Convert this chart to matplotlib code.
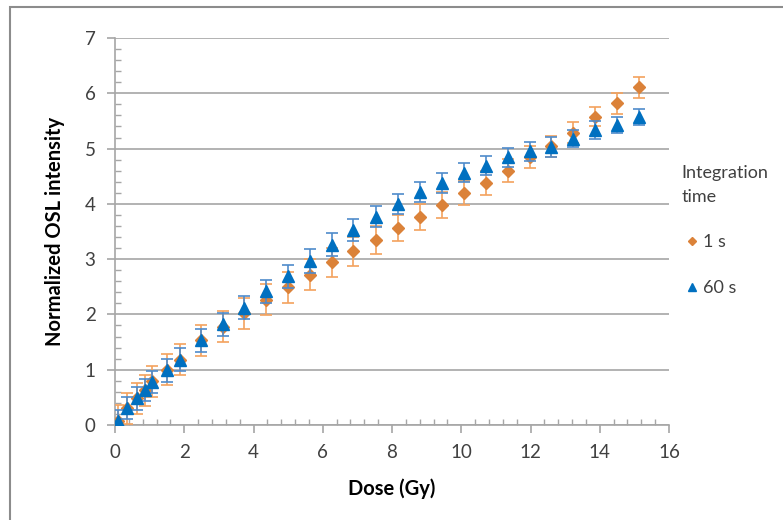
import matplotlib
matplotlib.use('Agg')
import matplotlib.pyplot as plt
from matplotlib.patches import Rectangle
from matplotlib.ticker import MultipleLocator

plt.rcParams['font.family'] = ['Lato', 'DejaVu Sans']

# dose points (Gy)
dose = [0.09, 0.35, 0.64, 0.87, 1.07, 1.50, 1.88, 2.48, 3.12, 3.73, 4.36, 5.00,
        5.63, 6.27, 6.87, 7.54, 8.17, 8.81, 9.44, 10.08, 10.71, 11.35, 11.99,
        12.59, 13.23, 13.86, 14.50, 15.13]

# integration time 1 s
osl_1s = [0.08, 0.30, 0.48, 0.63, 0.79, 1.00, 1.18, 1.53, 1.78, 2.02, 2.27, 2.49,
          2.72, 2.94, 3.14, 3.35, 3.56, 3.76, 3.98, 4.20, 4.38, 4.60, 4.84,
          5.04, 5.29, 5.58, 5.82, 6.11]
err_1s = [0.28, 0.28, 0.28, 0.28, 0.28, 0.28, 0.28, 0.28, 0.28, 0.28, 0.28, 0.28,
          0.28, 0.27, 0.26, 0.25, 0.24, 0.24, 0.23, 0.22, 0.22, 0.21, 0.20,
          0.19, 0.19, 0.18, 0.19, 0.19]

# integration time 60 s
osl_60s = [0.08, 0.31, 0.48, 0.63, 0.78, 0.99, 1.18, 1.53, 1.82, 2.12, 2.42, 2.69,
           2.97, 3.26, 3.53, 3.77, 4.00, 4.21, 4.38, 4.56, 4.69, 4.84, 4.95,
           5.03, 5.18, 5.33, 5.43, 5.57]
err_60s = [0.2, 0.2, 0.2, 0.2, 0.2, 0.21, 0.21, 0.21, 0.21, 0.21, 0.21, 0.21,
           0.22, 0.21, 0.2, 0.19, 0.18, 0.18, 0.18, 0.17, 0.17, 0.17, 0.17,
           0.18, 0.16, 0.16, 0.15, 0.15]

orange = '#DB8239'
blue = '#0070C0'

fig = plt.figure(figsize=(7.83, 5.2), dpi=100)
ax = fig.add_axes([115 / 783, 1 - 425 / 520, 554 / 783, 387 / 520])

# outer chart border like the spreadsheet frame
fig.patches.append(Rectangle((10 / 783, -0.1), 1.2, 0.1 + (520 - 7) / 520,
                             transform=fig.transFigure, fill=False,
                             edgecolor='#8c8c8c', linewidth=1.5))

eb1 = ax.errorbar(dose, osl_1s, yerr=err_1s, fmt='D', color=orange, markersize=6.5,
                  ecolor='#F4A25E', elinewidth=1.2, capsize=4.5, capthick=1.2,
                  label='1 s', zorder=3)
eb2 = ax.errorbar(dose, osl_60s, yerr=err_60s, fmt='^', color=blue, markersize=9,
                  ecolor='#4F8BCB', elinewidth=1.2, capsize=4.5, capthick=1.2,
                  label='60 s', zorder=4)

ax.set_xlim(0, 16)
ax.set_ylim(0, 7)
ax.xaxis.set_major_locator(MultipleLocator(2))
ax.xaxis.set_minor_locator(MultipleLocator(0.4))
ax.yaxis.set_major_locator(MultipleLocator(1))
ax.yaxis.set_minor_locator(MultipleLocator(0.2))
ax.grid(axis='y', which='major', color='#a6a6a6', linewidth=1.2, zorder=0)
ax.set_axisbelow(True)

for s in ['top', 'right']:
    ax.spines[s].set_visible(False)
for s in ['left', 'bottom']:
    ax.spines[s].set_color('#a6a6a6')
    ax.spines[s].set_linewidth(1.2)

ax.tick_params(which='major', direction='out', length=6, width=1.2,
               color='#a6a6a6', labelsize=13.5, labelcolor='#404040', pad=8)
ax.tick_params(which='minor', direction='in', length=4, width=1.0,
               color='#a6a6a6')

ax.set_xlabel('Dose (Gy)', fontsize=14.5, fontweight='bold', labelpad=12)
ax.set_ylabel('Normalized OSL intensity', fontsize=14.5, fontweight='bold',
              labelpad=14)

leg = ax.legend(handles=[eb1[0], eb2[0]], labels=['1 s', '60 s'],
                title='Integration\ntime', loc='upper left',
                bbox_to_anchor=(1.0, 0.705), frameon=False, fontsize=13,
                title_fontsize=13, handletextpad=0.0, handlelength=1.2,
                labelspacing=1.65, markerscale=0.7, borderpad=0.2)
leg._legend_box.align = 'left'
leg.get_title().set_color('#404040')
leg.get_title().set_linespacing(1.6)
for t in leg.get_texts():
    t.set_color('#404040')

plt.savefig('out.png', dpi=100)
